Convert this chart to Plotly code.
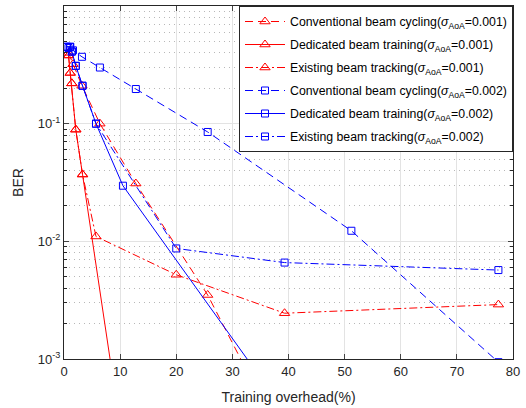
import plotly.graph_objects as go

# ---- data ----
x_conv_001 = [0.8, 1.6, 3.2, 6.4, 12.8, 25.6, 51.2]
y_conv_001 = [0.40, 0.32, 0.21, 0.10, 0.031, 0.0035, 1.5e-5]

x_ded_001 = [0.8, 1.1, 1.4, 2.1, 3.3, 12.8]
y_ded_001 = [0.38, 0.27, 0.22, 0.089, 0.037, 3.4e-5]

x_exist_001 = [0.8, 1.1, 1.4, 2.1, 3.3, 5.7, 20.0, 39.3, 77.4]
y_exist_001 = [0.38, 0.27, 0.22, 0.089, 0.037, 0.011, 0.0052, 0.00245, 0.0029]

x_conv_002 = [0.8, 1.6, 3.2, 6.4, 12.8, 25.6, 51.2, 77.4]
y_conv_002 = [0.44, 0.42, 0.37, 0.30, 0.197, 0.085, 0.0123, 0.00094]

x_ded_002 = [0.5, 1.1, 1.4, 2.1, 3.3, 5.7, 10.5, 39.3]
y_ded_002 = [0.45, 0.45, 0.41, 0.31, 0.21, 0.10, 0.0297, 3.6e-4]

x_exist_002 = [0.5, 1.1, 1.4, 2.1, 3.3, 5.7, 20.0, 39.3, 77.4]
y_exist_002 = [0.45, 0.45, 0.41, 0.31, 0.21, 0.10, 0.0087, 0.0066, 0.0057]

names = [
    "Conventional beam cycling(<i>σ</i><sub>AoA</sub>=0.001)",
    "Dedicated beam training(<i>σ</i><sub>AoA</sub>=0.001)",
    "Existing beam tracking(<i>σ</i><sub>AoA</sub>=0.001)",
    "Conventional beam cycling(<i>σ</i><sub>AoA</sub>=0.002)",
    "Dedicated beam training(<i>σ</i><sub>AoA</sub>=0.002)",
    "Existing beam tracking(<i>σ</i><sub>AoA</sub>=0.002)",
]

y_tickvals = [1e-3, 1e-2, 1e-1, 1]
y_ticktext = ["10<sup>-3</sup>", "10<sup>-2</sup>", "10<sup>-1</sup>", "10<sup>0</sup>"]
x_tickvals = [0, 10, 20, 30, 40, 50, 60, 70, 80]

DASH = "8px,5px"
DASHDOT = "8px,3px,2px,3px"

series = [
    (x_conv_001, y_conv_001, "red", DASH, "triangle-up-open", 9),
    (x_ded_001, y_ded_001, "red", "solid", "triangle-up-open", 9),
    (x_exist_001, y_exist_001, "red", DASHDOT, "triangle-up-open", 9),
    (x_conv_002, y_conv_002, "blue", DASH, "square-open", 7),
    (x_ded_002, y_ded_002, "blue", "solid", "square-open", 7),
    (x_exist_002, y_exist_002, "blue", DASHDOT, "square-open", 7),
]

fig = go.Figure()
for i, (xs, ys, col, dash, sym, sz) in enumerate(series):
    fig.add_trace(go.Scatter(
        x=xs, y=ys, mode="lines+markers", name=names[i],
        legendgroup=f"g{i}",
        line=dict(color=col, dash=dash, width=1),
        marker=dict(symbol=sym, size=sz, color=col, line=dict(width=1, color=col)),
        cliponaxis=True,
    ))

minor_vals = []
for d in [1e-3, 1e-2, 1e-1]:
    for k in range(2, 10):
        minor_vals.append(k * d)

axis_color = "#262626"
fig.update_layout(
    width=526, height=408,
    margin=dict(l=64, r=13, t=6, b=49, autoexpand=False),
    paper_bgcolor="white", plot_bgcolor="white",
    font=dict(family="Liberation Sans, Arial, sans-serif", size=13, color=axis_color),
    showlegend=True,
    legend=dict(
        x=1, y=1, xanchor="right", yanchor="top",
        bgcolor="white", bordercolor=axis_color, borderwidth=1,
        font=dict(size=12.3, color="black"),
        traceorder="grouped", tracegroupgap=4,
        itemwidth=40,
    ),
)
fig.update_xaxes(
    range=[0, 80], tickvals=x_tickvals, ticks="inside", ticklen=5,
    showline=True, mirror="ticks", linecolor=axis_color, linewidth=1,
    showgrid=True, gridcolor="#e3e3e3", zeroline=False, automargin=False,
    title=dict(text="Training overhead(%)", font=dict(size=14), standoff=14),
    tickfont=dict(size=13),
)
fig.update_yaxes(
    type="log", range=[-3, 0], tickvals=y_tickvals, ticktext=y_ticktext,
    ticks="inside", ticklen=5, automargin=False,
    showline=True, mirror="ticks", linecolor=axis_color, linewidth=1,
    showgrid=True, gridcolor="#e3e3e3", zeroline=False,
    minor=dict(tickvals=minor_vals, ticks="inside", ticklen=3, tickcolor=axis_color,
               showgrid=True, gridcolor="#b8b8b8", griddash="1px,4px"),
    title=dict(text="BER", font=dict(size=14), standoff=10),
    tickfont=dict(size=13),
)

fig.write_html(
    "out.html",
    config={"displayModeBar": False},
    post_script="document.body.style.margin='0px';document.body.style.overflow='hidden';",
)
